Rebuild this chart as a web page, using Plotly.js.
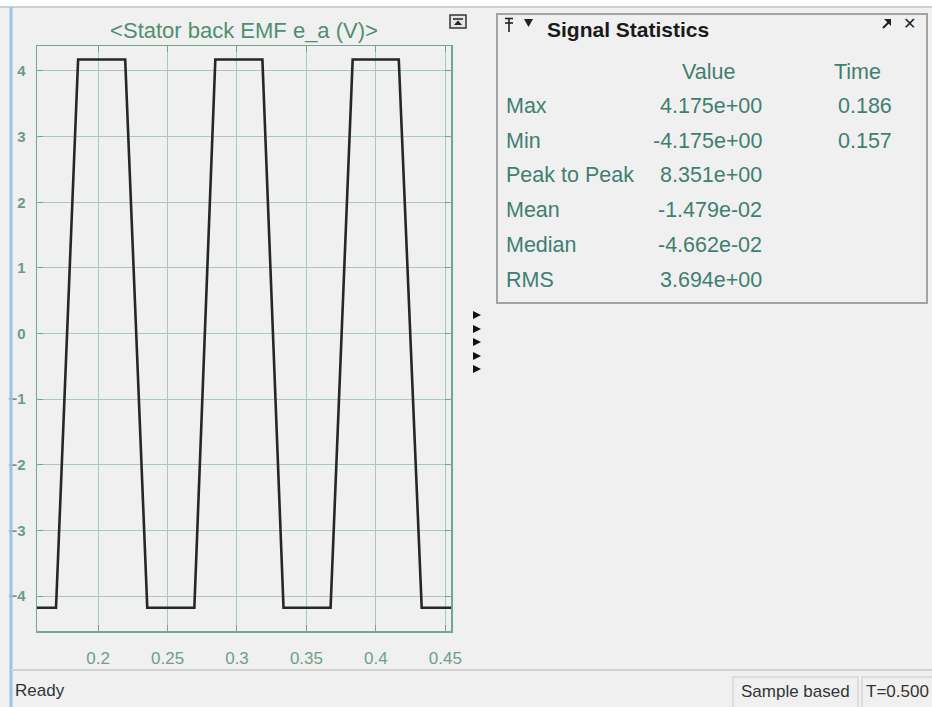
<!DOCTYPE html>
<html>
<head>
<meta charset="utf-8">
<script src="https://cdn.plot.ly/plotly-3.0.1.min.js"></script>
<style>html,body{margin:0;padding:0;background:#f0f0f0;}#chart{width:932px;height:707px;}</style>
</head>
<body>
<div id="chart"></div>
<script>
// ---- data ----
const timeValues = [0.156, 0.1697, 0.1856, 0.2195, 0.2354, 0.2693, 0.2844, 0.3183, 0.3335, 0.3674, 0.3833, 0.4165, 0.4330, 0.4541];
const emfValues  = [-4.175, -4.175, 4.175, 4.175, -4.175, -4.175, 4.175, 4.175, -4.175, -4.175, 4.175, 4.175, -4.175, -4.175];
const statNames  = ["Max", "Min", "Peak to Peak", "Mean", "Median", "RMS"];
const statValues = ["4.175e+00", "-4.175e+00", "8.351e+00", "-1.479e-02", "-4.662e-02", "3.694e+00"];
const statTimes  = ["0.186", "0.157", "", "", "", ""];
const statHeaders = ["Value", "Time"];
const chartTitle = "&lt;Stator back EMF e_a (V)&gt;";
const panelTitle = "Signal Statistics";
const statusLeft = "Ready";
const statusBoxes = ["Sample based", "T=0.500"];

// ---- layout helpers (pixel -> paper) ----
const W = 932, H = 707, ML = 37, MR = 481, MT = 46, MB = 76;
const PW = W - ML - MR, PH = H - MT - MB;
const X = p => (p - ML) / PW;
const Y = p => (H - MB - p) / PH;
const FONT = "Liberation Sans, Arial, sans-serif";
const GREEN = "#4f8e70";
const TEAL = "#3f7f70";
const AXIS = "#6fa88c";
const GRID = "#a9c9b8";
const TBL = 21.5;

const shapes = [];
const annotations = [];
function rect(x0, y0, x1, y1, fill, line, lw) {
  shapes.push({type: "rect", xref: "paper", yref: "paper", x0: X(x0), x1: X(x1), y0: Y(y0), y1: Y(y1),
    fillcolor: fill || "rgba(0,0,0,0)", line: {color: line || "rgba(0,0,0,0)", width: lw || 0}, layer: "above"});
}
function lineS(x0, y0, x1, y1, color, w) {
  shapes.push({type: "line", xref: "paper", yref: "paper", x0: X(x0), x1: X(x1), y0: Y(y0), y1: Y(y1),
    line: {color: color, width: w}, layer: "above"});
}
function text(str, x, y, opt) {
  opt = opt || {};
  annotations.push({xref: "paper", yref: "paper", x: X(x), y: Y(y), text: str, showarrow: false,
    xanchor: opt.xa || "left", yanchor: "middle",
    font: {family: opt.family || FONT, size: opt.size || TBL, color: opt.color || TEAL, weight: opt.weight || "normal"}});
}
function poly(pts, color) {
  shapes.push({type: "path", xref: "paper", yref: "paper",
    path: "M " + pts.map(p => X(p[0]) + " " + Y(p[1])).join(" L ") + " Z",
    fillcolor: color, line: {color: color, width: 0}, layer: "above"});
}

// window chrome
rect(0, 0, W, 6, "#ffffff");
lineS(0, 7, W, 7, "#cfcfcf", 2);
lineS(11, 7, 11, H, "#9cc3e8", 3);
lineS(11, 670, W, 670, "#d2d2d2", 2);
text(statusLeft, 13, 690, {size: 17, color: "#333333"});
rect(733, 677, 858, 708, null, "#d6d6d6", 1.5);
rect(862, 677, 934, 708, null, "#d6d6d6", 1.5);
text(statusBoxes[0], 795, 691, {size: 17, color: "#333333", xa: "center"});
text(statusBoxes[1], 897, 691, {size: 17, color: "#333333", xa: "center"});

// small scope icon above plot
rect(450, 15, 466, 28, "#e4e4e4", "#333333", 1.5);
lineS(453, 19, 463, 19, "#222222", 1.5);
poly([[454, 25], [458, 20.5], [462, 25]], "#222222");

// collapse arrows
[315, 329, 342, 356, 369].forEach(y => poly([[473, y - 4], [481, y], [473, y + 4]], "#111111"));

// statistics panel
rect(497, 14, 927, 303, null, "#a4a4a4", 2);
// pin icon
lineS(505, 18.5, 513, 18.5, "#222222", 1.6);
lineS(505, 23, 513, 23, "#222222", 1.6);
lineS(509, 18, 509, 32, "#222222", 1.6);
poly([[524, 19], [533, 19], [528.5, 27]], "#222222");
text(panelTitle, 545, 29, {size: 21, color: "#1a1a1a", weight: "bold"});
// undock arrow and close
poly([[891, 19], [891, 26], [884, 19]], "#222222");
lineS(883, 28, 889, 22, "#222222", 2);
text("\u2715", 901, 24, {size: 16, color: "#222222", weight: "bold", family: "DejaVu Sans"});
text(statHeaders[0], 708, 72, {xa: "center"});
text(statHeaders[1], 857, 72, {xa: "center"});
statNames.forEach((n, i) => {
  const y = 106 + i * 34.7;
  text(n, 504, y);
  text(statValues[i], 764, y, {xa: "right"});
  if (statTimes[i]) text(statTimes[i], 894, y, {xa: "right"});
});

const trace = {
  x: timeValues, y: emfValues, type: "scatter", mode: "lines",
  line: {color: "#262626", width: 2.6}, hoverinfo: "skip"
};

const layout = {
  width: W, height: H,
  margin: {l: ML, r: MR, t: MT, b: MB, pad: 0},
  paper_bgcolor: "#f0f0f0", plot_bgcolor: "#f0f0f0",
  showlegend: false,
  font: {family: FONT},
  title: {text: chartTitle, font: {family: FONT, size: 22, color: GREEN},
    x: (ML + PW / 2) / W, xanchor: "center", xref: "container",
    y: 1 - 30 / H, yanchor: "middle", yref: "container"},
  xaxis: {range: [0.156, 0.4541], tick0: 0, dtick: 0.05, showgrid: true, gridcolor: GRID, gridwidth: 1,
    showline: true, linecolor: AXIS, linewidth: 1.5, mirror: "ticks", ticks: "inside", ticklen: 6,
    tickcolor: AXIS, zeroline: false, tickfont: {family: FONT, size: 17, color: "#6e9f88"},
    ticklabelstandoff: 11, fixedrange: true},
  yaxis: {range: [-4.53, 4.38], tick0: 0, dtick: 1, showgrid: true, gridcolor: GRID, gridwidth: 1,
    showline: true, linecolor: AXIS, linewidth: 1.5, mirror: "ticks", ticks: "inside", ticklen: 6,
    tickcolor: AXIS, zeroline: false, tickfont: {family: FONT, size: 15, color: "#6a9c85", weight: "bold"},
    ticklabelstandoff: 7, fixedrange: true},
  shapes: shapes,
  annotations: annotations
};

Plotly.newPlot("chart", [trace], layout, {displayModeBar: false, staticPlot: true});
</script>
</body>
</html>
